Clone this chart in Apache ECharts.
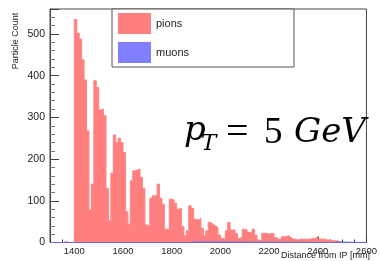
<!DOCTYPE html>
<html>
<head>
<meta charset="utf-8">
<script src="https://cdn.jsdelivr.net/npm/echarts@6/dist/echarts.min.js"></script>
<style>
  html, body { margin: 0; padding: 0; background: #fff; }
  #main { width: 380px; height: 261px; }
</style>
</head>
<body>
<div id="main"></div>
<script>
// histogram bins are 10 mm wide, first bin starts at 1360
const binStart = 1360;
const binWidth = 10;
const pionCounts = [
  2, 0, 0, 0,
  535, 502, 488, 438, 390, 268, 78, 140, 388, 372,
  318, 320, 304, 130, 52, 166, 258, 240, 250, 240,
  216, 74, 44, 148, 172, 174, 176, 156, 130, 42,
  38, 106, 112, 112, 140, 106, 92, 32, 30, 104,
  102, 94, 80, 82, 38, 16, 28, 88, 82, 56,
  54, 58, 34, 16, 28, 48, 44, 40, 36, 18,
  10, 8, 28, 48, 30, 30, 22, 10, 12, 32,
  30, 24, 24, 32, 18, 6, 4, 22, 22, 20,
  22, 22, 12, 8, 8, 14, 14, 16, 12, 8,
  8, 6, 8, 8, 8, 8, 8, 10, 10, 14,
  8, 8, 8, 6, 6, 4, 4, 4, 2, 0
];
// muons: practically empty, a couple of single entries
const muonEdges = [1300, 1880, 1890, 2470, 2480, 2600];
const muonCounts = [0, 1, 0, 1, 0, 0];

const xLabels = [1400, 1600, 1800, 2000, 2200, 2400, 2600];

const pionData = pionCounts.map((c, i) => [binStart + i * binWidth, c]);
pionData.push([binStart + pionCounts.length * binWidth, 0]);
const muonData = muonEdges.map((e, i) => [e, muonCounts[i]]);

const chart = echarts.init(document.getElementById('main'));
const labelFont = 'Liberation Sans';

const option = {
  animation: false,
  grid: {
    left: 50, right: 4, top: 9, bottom: 18.5,
    show: true, borderColor: '#444', borderWidth: 1
  },
  legend: {
    orient: 'vertical',
    left: 118, top: 13, padding: 0,
    itemWidth: 33, itemHeight: 21, itemGap: 8,
    icon: 'rect',
    textStyle: { fontFamily: labelFont, fontSize: 11, color: '#222' },
    data: ['pions', 'muons']
  },
  xAxis: [
    {
      type: 'value', min: 1300, max: 2600,
      axisLine: { show: false },
      splitLine: { show: false },
      axisTick: { inside: true, length: 6, customValues: xLabels, lineStyle: { color: '#333' } },
      axisLabel: {
        customValues: xLabels, fontFamily: labelFont, fontSize: 9.5, color: '#222', margin: 4,
        alignMaxLabel: 'center',
        formatter: v => String(v)
      }
    },
    {
      type: 'value', min: 1300, max: 2600, interval: 50,
      gridIndex: 0, position: 'bottom',
      axisLine: { show: false },
      splitLine: { show: false },
      axisTick: { inside: true, length: 3, lineStyle: { color: '#333' } },
      axisLabel: { show: false }
    }
  ],
  yAxis: {
    type: 'value', min: 0, max: 560, interval: 100,
    axisLine: { show: true, lineStyle: { color: '#444' } },
    splitLine: { show: false },
    axisTick: { inside: true, length: 9, lineStyle: { color: '#444' } },
    minorTick: { show: true, splitNumber: 5, length: 5, lineStyle: { color: '#777' } },
    axisLabel: {
      fontFamily: labelFont, fontSize: 10.5, color: '#222', margin: 5,
      formatter: v => (v % 100 === 0 ? String(v) : '')
    }
  },
  series: [
    {
      name: 'pions', type: 'line', step: 'end',
      showSymbol: false, symbol: 'none',
      data: pionData,
      itemStyle: { color: '#ff7f7f' },
      lineStyle: { color: '#ff8585', width: 1 },
      areaStyle: { color: '#ff7f7f', opacity: 1 },
      z: 2
    },
    {
      name: 'muons', type: 'line', step: 'end',
      showSymbol: false, symbol: 'none',
      data: muonData,
      itemStyle: { color: '#7f7fff' },
      lineStyle: { color: '#6a6ae0', width: 1.2 },
      areaStyle: { color: '#7f7fff', opacity: 1 },
      z: 3
    }
  ],
  graphic: [
    {
      type: 'rect', z: 1,
      shape: { x: 112, y: 9, width: 182, height: 58 },
      style: { fill: '#fff', stroke: '#555', lineWidth: 1 }
    },
    {
      type: 'text', x: 16, y: 41, rotation: Math.PI / 2,
      style: { text: 'Particle Count', fontFamily: labelFont, fontSize: 9, fill: '#222', align: 'center', verticalAlign: 'middle' }
    },
    {
      type: 'text', x: 370, y: 256,
      style: { text: 'Distance from IP [mm]', fontFamily: labelFont, fontSize: 9, fill: '#222', align: 'right', verticalAlign: 'middle' }
    },
    {
      type: 'text', x: 184, y: 131,
      style: { text: 'p', fontFamily: 'DejaVu Serif', fontStyle: 'italic', fontSize: 34, fill: '#000', align: 'left', verticalAlign: 'middle' }
    },
    {
      type: 'text', x: 201, y: 144,
      style: { text: 'T', fontFamily: 'DejaVu Serif', fontStyle: 'italic', fontSize: 23, fill: '#000', align: 'left', verticalAlign: 'middle' }
    },
    {
      type: 'text', x: 226, y: 133,
      style: { text: '=', fontFamily: 'Liberation Serif', fontSize: 40, fill: '#000', align: 'left', verticalAlign: 'middle' }
    },
    {
      type: 'text', x: 264, y: 133,
      style: { text: '5', fontFamily: 'Liberation Serif', fontSize: 37, fill: '#000', align: 'left', verticalAlign: 'middle' }
    },
    {
      type: 'text', x: 294, y: 133,
      style: { text: 'GeV', fontFamily: 'DejaVu Serif', fontStyle: 'italic', fontSize: 34, fill: '#000', align: 'left', verticalAlign: 'middle' }
    }
  ]
};
chart.setOption(option);
</script>
</body>
</html>
